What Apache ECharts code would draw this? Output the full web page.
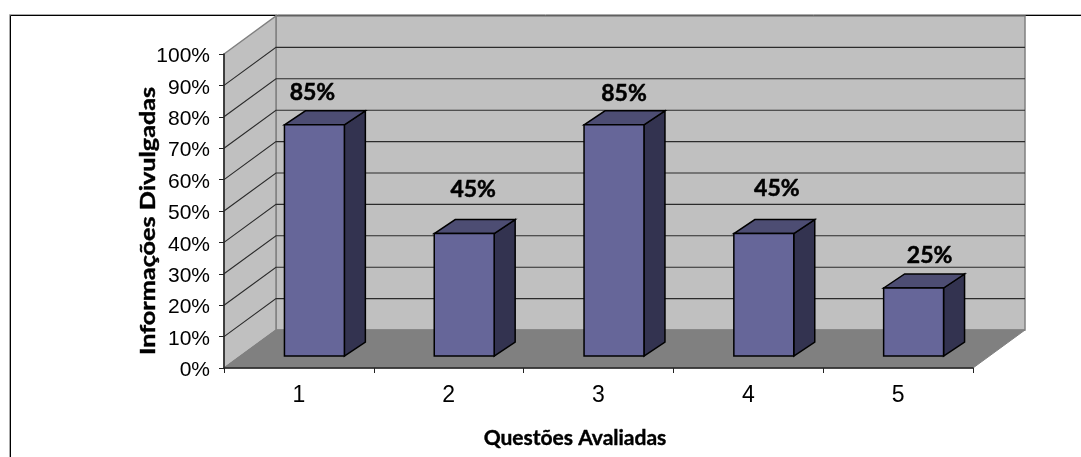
<!DOCTYPE html>
<html>
<head>
<meta charset="utf-8">
<style>html,body{margin:0;padding:0;background:#fff}#chart{width:1081px;height:457px}</style>
<script src="https://cdn.jsdelivr.net/npm/echarts@6/dist/echarts.min.js"></script>
</head>
<body>
<div id="chart"></div>
<script>
// Survey results: share of information disclosed per evaluated question
const questions = ['1', '2', '3', '4', '5'];
const disclosed = [85, 45, 85, 45, 25];
const wallTicks = [10, 20, 30, 40, 50, 60, 70, 80, 90];

// Oblique projection of the box and of the columns inside it
const BOX_DX = 52, BOX_DY = -38;
const BAR_DX = 21, BAR_DY = -14;
// Hand placement of the value captions, relative to each column's top face
const captionShift = [[-2, -7], [9, -19], [10, -6], [13, -20], [16, -7]];

const chart = echarts.init(document.getElementById('chart'), null, {renderer: 'canvas'});

function poly(points, fill, stroke, width) {
  return {type: 'polygon', shape: {points}, style: {fill, stroke: stroke || 'none', lineWidth: width || 0, lineJoin: 'miter'}};
}

function renderBox(params, api) {
  const o = api.coord([0, 0]);
  const t = api.coord([0, 100]);
  const band = api.size([1, 0])[0];
  const x0 = o[0] - band / 2, x1 = x0 + band * questions.length;
  const y0 = o[1], y1 = t[1];
  const bx0 = x0 + BOX_DX, bx1 = x1 + BOX_DX, by0 = y0 + BOX_DY, by1 = y1 + BOX_DY;
  const edge = '#808080';
  return {
    type: 'group',
    children: [
      poly([[bx0, by1], [bx1, by1], [bx1, by0], [bx0, by0]], '#C0C0C0', edge, 1.5),
      poly([[x0, y1], [bx0, by1], [bx0, by0], [x0, y0]], '#C0C0C0', edge, 1.5),
      poly([[x0, y0], [bx0, by0], [bx1, by0], [x1, y0]], '#808080', edge, 1)
    ]
  };
}

function renderWallTick(params, api) {
  const y = api.coord([0, api.value(0)])[1];
  const band = api.size([1, 0])[0];
  const x0 = api.coord([0, 0])[0] - band / 2, x1 = x0 + band * questions.length;
  return {
    type: 'polyline',
    shape: {points: [[x0, y], [x0 + BOX_DX, y + BOX_DY], [x1 + BOX_DX, y + BOX_DY]]},
    style: {fill: 'none', stroke: '#2b2b2b', lineWidth: 1.1}
  };
}

function renderColumn(params, api) {
  const c = api.coord([api.value(0), api.value(1)]);
  const base = api.coord([api.value(0), 0])[1];
  const w = api.size([1, 0])[0] * 0.4;
  const l = c[0] - w / 2, r = c[0] + w / 2, top = c[1];
  const line = '#000';
  return {
    type: 'group',
    children: [
      poly([[r, top], [r + BAR_DX, top + BAR_DY], [r + BAR_DX, base + BAR_DY], [r, base]], '#333350', line, 1.5),
      poly([[l, top], [l + BAR_DX, top + BAR_DY], [r + BAR_DX, top + BAR_DY], [r, top]], '#4D4D73', line, 1.5),
      poly([[l, top], [r, top], [r, base], [l, base]], '#666699', line, 1.5)
    ]
  };
}

function renderCaption(params, api) {
  const c = api.coord([api.value(0), api.value(1)]);
  const s = captionShift[params.dataIndex];
  return {
    type: 'text',
    x: c[0] + s[0],
    y: c[1] + BAR_DY + s[1],
    style: {
      text: api.value(1) + '%',
      font: 'bold 23px Lato',
      fill: '#000',
      stroke: '#000',
      lineWidth: 0.5,
      align: 'center',
      verticalAlign: 'bottom'
    }
  };
}

const titleStyle = {fill: '#000', stroke: '#000', lineWidth: 0.4, font: 'bold 21px Lato', align: 'center', verticalAlign: 'middle'};

chart.setOption({
  animation: false,
  backgroundColor: '#fff',
  grid: [
    {left: 224, top: 54, width: 749, height: 314},
    {left: 239.5, top: 84, width: 749, height: 272}
  ],
  xAxis: [
    {
      type: 'category', gridIndex: 0, data: questions, z: 10,
      axisLine: {show: true, lineStyle: {color: '#222', width: 1.5}},
      axisTick: {show: true, length: 5, lineStyle: {color: '#222', width: 1}},
      axisLabel: {fontFamily: 'Liberation Sans', fontSize: 23, color: '#000', margin: 16}
    },
    {type: 'category', gridIndex: 1, data: questions, show: false}
  ],
  yAxis: [
    {
      type: 'value', gridIndex: 0, min: 0, max: 100, interval: 10, z: 10,
      axisLine: {show: true, lineStyle: {color: '#222', width: 1.5}},
      axisTick: {show: true, length: 5, lineStyle: {color: '#222', width: 1}},
      axisLabel: {formatter: '{value}%', fontFamily: 'Liberation Sans', fontSize: 21, color: '#000', margin: 14, verticalAlign: 'top', lineHeight: 5},
      splitLine: {show: false}
    },
    {type: 'value', gridIndex: 1, min: 0, max: 100, show: false}
  ],
  graphic: [
    {type: 'polyline', silent: true, z: 0, shape: {points: [[9.5, 457], [9.5, 14.5], [1081, 14.5]]},
      style: {fill: 'none', stroke: '#aaaaaa', lineWidth: 1}},
    {type: 'polyline', silent: true, z: 0, shape: {points: [[10.5, 457], [10.5, 15.5], [1081, 15.5]]},
      style: {fill: 'none', stroke: '#000', lineWidth: 1}},
    {type: 'text', silent: true, z: 20, x: 575, y: 438, style: {...titleStyle, text: 'Questões Avaliadas'}},
    {type: 'text', silent: true, z: 20, x: 148, y: 221, rotation: Math.PI / 2, scaleX: 1.2,
      style: {...titleStyle, text: 'Informações Divulgadas'}}
  ],
  series: [
    {type: 'custom', xAxisIndex: 0, yAxisIndex: 0, z: 1, renderItem: renderBox, data: [0], silent: true, clip: false},
    {type: 'custom', xAxisIndex: 0, yAxisIndex: 0, z: 2, renderItem: renderWallTick,
      encode: {y: 0}, data: wallTicks.map(v => [v]), silent: true, clip: false},
    {type: 'custom', xAxisIndex: 1, yAxisIndex: 1, z: 3, renderItem: renderColumn,
      encode: {x: 0, y: 1}, data: disclosed.map((v, i) => [i, v]), silent: true, clip: false},
    {type: 'custom', xAxisIndex: 1, yAxisIndex: 1, z: 4, renderItem: renderCaption,
      encode: {x: 0, y: 1}, data: disclosed.map((v, i) => [i, v]), silent: true, clip: false}
  ]
});
</script>
</body>
</html>
